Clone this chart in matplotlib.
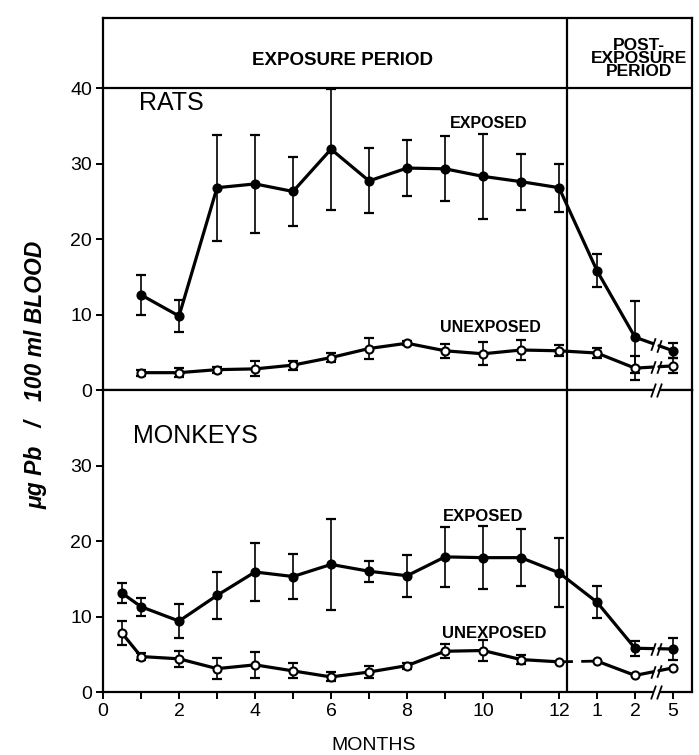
import numpy as np
import matplotlib
matplotlib.use("Agg")
import matplotlib.pyplot as plt

plt.rcParams['font.family'] = ['Liberation Sans', 'DejaVu Sans']

# ---------------------------------------------------------------- data
exposure_months = list(range(1, 13))
monkey_months = [0.5] + exposure_months
post_labels = ["1", "2", "5"]          # months after exposure ended
post_pos = [13, 14, 15]                # where those months sit on the axis

rats_exposed = [12.6, 9.8, 26.8, 27.3, 26.3, 31.9, 27.7, 29.4, 29.3, 28.3, 27.6, 26.8,
                15.8, 7.0, 5.2]
rats_exposed_err = [2.6, 2.1, 7.0, 6.5, 4.6, 8.0, 4.3, 3.7, 4.3, 5.6, 3.7, 3.2,
                    2.2, 4.8, 1.0]
rats_unexposed = [2.3, 2.3, 2.7, 2.8, 3.3, 4.3, 5.5, 6.2, 5.2, 4.8, 5.3, 5.2,
                  4.9, 2.9, 3.2]
rats_unexposed_err = [0.4, 0.6, 0.4, 1.0, 0.6, 0.6, 1.4, 0.3, 0.9, 1.5, 1.3, 0.7,
                      0.7, 1.6, 1.0]

monkeys_exposed = [13.1, 11.3, 9.4, 12.8, 15.9, 15.3, 16.9, 16.0, 15.4, 17.9, 17.8, 17.8, 15.8,
                   11.9, 5.8, 5.7]
monkeys_exposed_err = [1.3, 1.2, 2.2, 3.1, 3.9, 3.0, 6.0, 1.4, 2.8, 4.0, 4.2, 3.8, 4.6,
                       2.1, 1.0, 1.5]
monkeys_unexposed = [7.8, 4.7, 4.4, 3.1, 3.6, 2.8, 2.0, 2.65, 3.5, 5.4, 5.5, 4.3, 4.0,
                     4.1, 2.2, 3.2]
monkeys_unexposed_err = [1.6, 0.5, 1.1, 1.4, 1.7, 1.0, 0.6, 0.8, 0.4, 0.9, 1.4, 0.6, 0.0,
                         0.0, 0.0, 0.0]

x_ticks = list(range(0, 13)) + post_pos
x_ticklabels = [str(m) if m % 2 == 0 else "" for m in range(13)] + post_labels

SEPARATOR = 12.2          # end of the exposure period
BREAK_A, BREAK_B = 14.47, 14.63
LW_FRAME = 1.6
SLASH = [(-0.35, -1.0), (0.35, 1.0)]
LETTERING = ['Liberation Sans Narrow', 'Liberation Sans', 'DejaVu Sans']

# ---------------------------------------------------------------- figure
fig = plt.figure(figsize=(6.99, 7.55), dpi=100)
ax_top = fig.add_axes([0.1474, 0.4834, 0.8426, 0.4927])
ax_bot = fig.add_axes([0.1474, 0.0834, 0.8426, 0.4000])


def draw_series(ax, x, y, err, filled, dashed_bridge=False):
    x = np.asarray(x, float)
    y = np.asarray(y, float)
    err = np.asarray(err, float)
    has_err = err > 0
    ax.errorbar(x[has_err], y[has_err], yerr=err[has_err], fmt='none', ecolor='k',
                elinewidth=1.2, capsize=3.5, capthick=1.6, zorder=3)
    n_exp = len(x) - 3
    kw = dict(color='k', lw=2.3, solid_capstyle='round', zorder=4)
    if dashed_bridge:
        ax.plot(x[:n_exp], y[:n_exp], **kw)
        ax.plot(x[n_exp - 1:n_exp + 1], y[n_exp - 1:n_exp + 1], color='k', lw=2.0,
                dashes=(5, 3), zorder=4)
        ax.plot(x[n_exp:n_exp + 2], y[n_exp:n_exp + 2], **kw)
    else:
        ax.plot(x[:n_exp + 2], y[:n_exp + 2], **kw)
    # broken segment across the compressed stretch of the axis
    ya, yb = np.interp([BREAK_A, BREAK_B], x[-2:], y[-2:])
    ax.plot([x[-2], BREAK_A], [y[-2], ya], **kw)
    ax.plot([BREAK_B, x[-1]], [yb, y[-1]], **kw)
    ax.plot([BREAK_A, BREAK_B], [ya, yb], linestyle='none', marker=SLASH, ms=9,
            mec='k', mew=1.3, zorder=4)
    ax.plot(x, y, linestyle='none', marker='o', ms=5.8,
            mfc='k' if filled else 'white', mec='k', mew=1.5, zorder=5)


def axis_break(ax, y):
    ax.plot([BREAK_A, BREAK_B], [y, y], color='white', lw=4, clip_on=False, zorder=10,
            solid_capstyle='butt')
    ax.plot([BREAK_A, BREAK_B], [y, y], linestyle='none', marker=SLASH, ms=10,
            mec='k', mew=1.3, clip_on=False, zorder=11)


for ax in (ax_top, ax_bot):
    ax.set_xlim(0, 15.5)
    for sp in ax.spines.values():
        sp.set_linewidth(LW_FRAME)
    ax.axvline(SEPARATOR, color='k', lw=LW_FRAME, zorder=2)
    ax.set_xticks(x_ticks)
    ax.tick_params(axis='both', direction='out', length=5, width=1.4, labelsize=14, pad=3)

# rats panel with header band above 40
ax_top.set_ylim(0, 49.27)
ax_top.set_yticks([0, 10, 20, 30, 40])
ax_top.set_xticklabels([])
ax_top.axhline(40, color='k', lw=LW_FRAME, zorder=2)
draw_series(ax_top, exposure_months + post_pos, rats_exposed, rats_exposed_err, True)
draw_series(ax_top, exposure_months + post_pos, rats_unexposed, rats_unexposed_err, False)

ax_top.text(0.95, 38.0, "RATS", fontsize=18, ha='left', va='center')
ax_top.text(10.15, 35.3, "EXPOSED", fontsize=11.5, fontweight='bold', family=LETTERING,
            ha='center', va='center')
ax_top.text(10.2, 8.3, "UNEXPOSED", fontsize=11.5, fontweight='bold', family=LETTERING,
            ha='center', va='center')
ax_top.text(6.3, 43.6, "EXPOSURE PERIOD", fontsize=13.5, fontweight='bold', family=LETTERING,
            ha='center', va='center')
ax_top.text(14.1, 43.9, "POST-\nEXPOSURE\nPERIOD", fontsize=12.5, fontweight='bold',
            family=LETTERING, ha='center', va='center', linespacing=0.85)

# monkeys panel
ax_bot.set_ylim(0, 40)
ax_bot.set_yticks([0, 10, 20, 30])
ax_bot.set_xticklabels(x_ticklabels)
draw_series(ax_bot, monkey_months + post_pos, monkeys_exposed, monkeys_exposed_err, True)
draw_series(ax_bot, monkey_months + post_pos, monkeys_unexposed, monkeys_unexposed_err, False,
            dashed_bridge=True)
axis_break(ax_bot, 0)
axis_break(ax_bot, 40)

ax_bot.text(0.8, 33.9, "MONKEYS", fontsize=18, ha='left', va='center')
ax_bot.text(10.0, 23.2, "EXPOSED", fontsize=12, fontweight='bold', family=LETTERING,
            ha='center', va='center')
ax_bot.text(10.3, 7.7, "UNEXPOSED", fontsize=12, fontweight='bold', family=LETTERING,
            ha='center', va='center')

fig.text(0.535, 0.013, "MONTHS", fontsize=14, ha='center', va='center')
fig.text(0.052, 0.503, "\u03bcg Pb   /   100 ml BLOOD", fontsize=16.5, style='italic',
         fontweight='bold', rotation=90, ha='center', va='center')

fig.savefig("out.png", dpi=100)
